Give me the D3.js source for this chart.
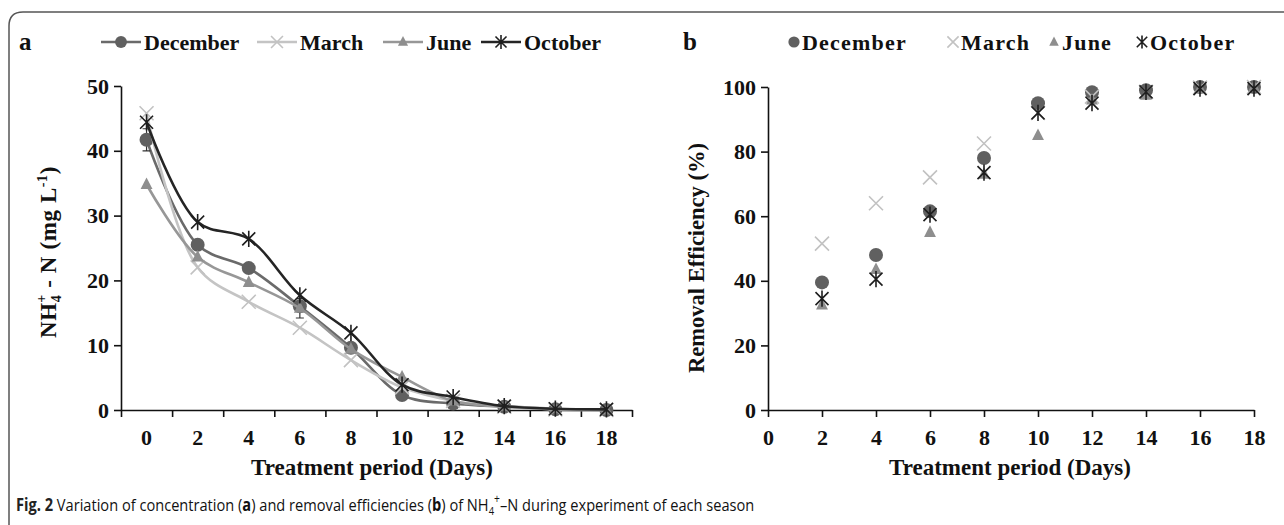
<!DOCTYPE html>
<html>
<head>
<meta charset="utf-8">
<script src="https://cdn.jsdelivr.net/npm/d3@7"></script>
<style>
  body { margin: 0; background: #fff; }
  svg text { font-family: "Liberation Serif", "Times New Roman", serif; font-weight: bold; fill: #111; }
  text.cap { font-family: "Liberation Sans Narrow", "Open Sans", sans-serif; }
</style>
</head>
<body>
<svg width="1284" height="525"></svg>
<script>
// days and season names
var days = [0, 2, 4, 6, 8, 10, 12, 14, 16, 18];
var daysB = [2, 4, 6, 8, 10, 12, 14, 16, 18];
var seasons = ["December", "March", "June", "October"];

// panel a: NH4+-N concentration (mg/L)
var concDecember = [41.7, 25.5, 21.9, 16.0, 9.6, 2.3, 1.0, 0.5, 0.1, 0.0];
var concMarch    = [45.8, 22.0, 16.7, 12.7, 7.7, 3.5, 1.4, 0.5, 0.1, 0.0];
var concJune     = [34.8, 23.6, 19.7, 15.7, 9.4, 5.1, 1.4, 0.6, 0.2, 0.0];
var concOctober  = [44.4, 29.0, 26.4, 17.7, 11.9, 3.9, 2.0, 0.6, 0.2, 0.1];
var errDecember  = [1.7, 0, 0, 0, 0, 0, 0, 0, 0, 0];
var errJune      = [0, 0, 0, 1.5, 0, 0, 0, 0, 0, 0];

// panel b: removal efficiency (%)
var remDecember = [39.5, 48.0, 61.5, 78.0, 95.0, 98.4, 99.0, 100, 100];
var remMarch    = [51.5, 64.0, 72.0, 82.5, 92.0, 97.0, 98.5, 99.8, 100];
var remJune     = [32.5, 43.5, 55.0, 73.0, 85.0, 96.0, 97.5, 99.5, 100];
var remOctober  = [34.5, 40.5, 60.5, 73.5, 92.0, 95.0, 98.5, 99.5, 99.5];

var yTicksA = [0, 10, 20, 30, 40, 50];
var yTicksB = [0, 20, 40, 60, 80, 100];
var xTicksB = [0, 2, 4, 6, 8, 10, 12, 14, 16, 18];

var colors = {December: "#606060", March: "#c2c2c2", June: "#8e8e8e", October: "#1e1e1e"};
var lineColors = {December: "#6a6a6a", March: "#c4c4c4", June: "#979797", October: "#252525"};

var svg = d3.select("svg");

// frame
svg.append("path")
  .attr("d", "M9,525 V26 Q9,12 23,12 H1284")
  .attr("fill", "none").attr("stroke", "#555").attr("stroke-width", 1.5);

function marker(g, name, x, y, s) {
  var c = colors[name];
  if (name == "December") {
    g.append("circle").attr("cx", x).attr("cy", y).attr("r", 7 * s).attr("fill", c);
  } else if (name == "March") {
    var h = 7 * s;
    g.append("path").attr("d", "M" + (x - h) + "," + (y - h) + "L" + (x + h) + "," + (y + h) + "M" + (x - h) + "," + (y + h) + "L" + (x + h) + "," + (y - h))
      .attr("stroke", c).attr("stroke-width", 1.6).attr("fill", "none");
  } else if (name == "June") {
    var t = 7 * s;
    g.append("path").attr("d", "M" + x + "," + (y - t) + "L" + (x + t * 0.85) + "," + (y + t * 0.65) + "L" + (x - t * 0.85) + "," + (y + t * 0.65) + "Z")
      .attr("fill", c);
  } else {
    var h2 = 6.5 * s;
    g.append("path").attr("d", "M" + (x - h2) + "," + (y - h2) + "L" + (x + h2) + "," + (y + h2) + "M" + (x - h2) + "," + (y + h2) + "L" + (x + h2) + "," + (y - h2) + "M" + x + "," + (y - h2 * 1.25) + "L" + x + "," + (y + h2 * 1.25))
      .attr("stroke", c).attr("stroke-width", 1.6).attr("fill", "none");
  }
}

function styleAxis(g) {
  g.selectAll("path.domain").attr("stroke", "#111").attr("stroke-width", 1.6);
  g.selectAll(".tick line").attr("stroke", "#111").attr("stroke-width", 1.6);
  g.selectAll("text").attr("font-size", 22).attr("fill", "#111")
    .style("font-family", "'Liberation Serif', serif").style("font-weight", "bold");
}

// ---------------- panel a ----------------
var concs = {December: concDecember, March: concMarch, June: concJune, October: concOctober};
var errs = {December: errDecember, June: errJune};

var xa = d3.scaleBand().domain(days).range([121, 632]);
var xaEdge = d3.scaleLinear().domain([0, 10]).range([121, 632]);
var ya = d3.scaleLinear().domain([0, 50]).range([410, 86]);

var ga = svg.append("g");
ga.append("g").attr("transform", "translate(121,0)")
  .call(d3.axisLeft(ya).tickValues(yTicksA).tickSize(7).tickSizeOuter(0).tickPadding(5))
  .call(styleAxis);
ga.append("g").attr("transform", "translate(0,410)")
  .call(d3.axisBottom(xaEdge).ticks(10).tickSize(7).tickSizeOuter(0).tickFormat(""))
  .call(styleAxis);
ga.append("g").attr("transform", "translate(0,410)")
  .call(d3.axisBottom(xa).tickSize(0).tickPadding(19))
  .call(styleAxis)
  .call(function(g) { g.select(".domain").remove(); });

var line = d3.line()
  .x(function(d, i) { return xa(days[i]) + xa.bandwidth() / 2; })
  .y(function(d) { return ya(d); })
  .curve(d3.curveCatmullRom.alpha(0.5));

seasons.forEach(function(name) {
  var vals = concs[name];
  ga.append("path").datum(vals).attr("d", line)
    .attr("fill", "none").attr("stroke", lineColors[name]).attr("stroke-width", 2.6);
  if (errs[name]) {
    errs[name].forEach(function(e, i) {
      if (!e) return;
      var cx = xa(days[i]) + xa.bandwidth() / 2;
      ga.append("path")
        .attr("d", "M" + cx + "," + ya(vals[i] - e) + "V" + ya(vals[i] + e) +
          "M" + (cx - 4) + "," + ya(vals[i] - e) + "H" + (cx + 4) +
          "M" + (cx - 4) + "," + ya(vals[i] + e) + "H" + (cx + 4))
        .attr("stroke", "#333").attr("stroke-width", 1.2).attr("fill", "none");
    });
  }
  vals.forEach(function(v, i) {
    marker(ga, name, xa(days[i]) + xa.bandwidth() / 2, ya(v), 1);
  });
});

ga.append("text").attr("x", 372).attr("y", 475).attr("text-anchor", "middle")
  .attr("font-size", 23).text("Treatment period (Days)");
var yta = ga.append("text").attr("transform", "translate(56,252) rotate(-90)")
  .attr("text-anchor", "middle").attr("font-size", 23).attr("letter-spacing", 0.6);
yta.append("tspan").text("NH");
yta.append("tspan").attr("font-size", 14).attr("dy", 5).text("4");
yta.append("tspan").attr("font-size", 14).attr("dy", -15).attr("dx", -8).text("+");
yta.append("tspan").attr("dy", 10).text(" - N (mg  L");
yta.append("tspan").attr("font-size", 14).attr("dy", -9).text("-1");
yta.append("tspan").attr("dy", 9).text(")");

ga.append("text").attr("x", 19).attr("y", 50).attr("font-size", 25).text("a");

// legend a
var legA = [{n: "December", x: 101}, {n: "March", x: 257}, {n: "June", x: 383}, {n: "October", x: 481}];
legA.forEach(function(l) {
  ga.append("line").attr("x1", l.x).attr("x2", l.x + 40).attr("y1", 42).attr("y2", 42)
    .attr("stroke", lineColors[l.n]).attr("stroke-width", 2.6);
  marker(ga, l.n, l.x + 20, 42, 0.85);
  ga.append("text").attr("x", l.x + 43).attr("y", 50).attr("font-size", 22).text(l.n);
});

// ---------------- panel b ----------------
var rems = {December: remDecember, March: remMarch, June: remJune, October: remOctober};
var xb = d3.scaleLinear().domain([0, 18]).range([768, 1254]);
var yb = d3.scaleLinear().domain([0, 100]).range([410, 87]);

var gb = svg.append("g");
gb.append("g").attr("transform", "translate(768,0)")
  .call(d3.axisLeft(yb).tickValues(yTicksB).tickSize(7).tickSizeOuter(0).tickPadding(5))
  .call(styleAxis);
gb.append("g").attr("transform", "translate(0,410)")
  .call(d3.axisBottom(xb).tickValues(xTicksB).tickSize(7).tickSizeOuter(0).tickPadding(12))
  .call(styleAxis);

seasons.forEach(function(name) {
  rems[name].forEach(function(v, i) {
    marker(gb, name, xb(daysB[i]), yb(v), 1);
  });
});

gb.append("text").attr("x", 1010).attr("y", 475).attr("text-anchor", "middle")
  .attr("font-size", 23).text("Treatment period (Days)");
gb.append("text").attr("transform", "translate(704,258) rotate(-90)")
  .attr("text-anchor", "middle").attr("font-size", 22.5).text("Removal Efficiency (%)");
gb.append("text").attr("x", 683).attr("y", 50).attr("font-size", 25).text("b");

var legB = [{n: "December", x: 794}, {n: "March", x: 953}, {n: "June", x: 1054}, {n: "October", x: 1142}];
legB.forEach(function(l) {
  marker(gb, l.n, l.x, 42, 0.8);
  gb.append("text").attr("x", l.x + 8).attr("y", 50).attr("font-size", 22)
    .attr("letter-spacing", 1.2).text(l.n);
});

// caption
var cap = svg.append("text").attr("class", "cap").attr("transform", "translate(16,511) scale(0.86,1)")
  .attr("font-size", 17).style("font-weight", "normal").attr("fill", "#333");
cap.append("tspan").style("font-weight", "bold").attr("fill", "#222").text("Fig. 2");
cap.append("tspan").text("  Variation of concentration (");
cap.append("tspan").style("font-weight", "bold").text("a");
cap.append("tspan").text(") and removal efficiencies (");
cap.append("tspan").style("font-weight", "bold").text("b");
cap.append("tspan").text(") of NH");
cap.append("tspan").attr("font-size", 11).attr("dy", 4).text("4");
cap.append("tspan").attr("font-size", 12).attr("dy", -12).text("+");
cap.append("tspan").attr("dy", 8).text("–N during experiment of each season");
</script>
</body>
</html>
